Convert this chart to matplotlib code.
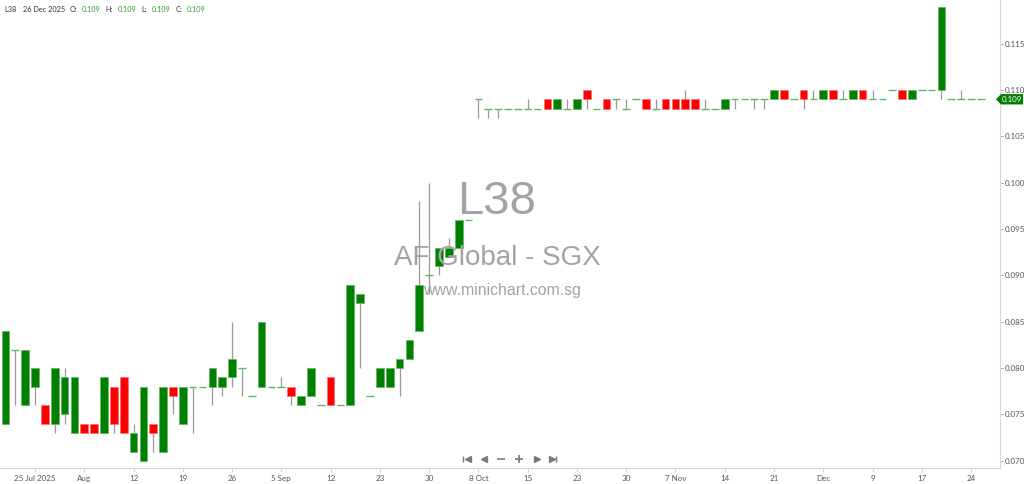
import matplotlib
matplotlib.use("Agg")
import matplotlib.pyplot as plt
import matplotlib.transforms as mtransforms
from matplotlib.lines import Line2D
from matplotlib.patches import Polygon
import numpy as np

# daily OHLC, L38 (AF Global - SGX), 100 sessions up to 26 Dec 2025
opens = [0.074, 0.082, 0.076, 0.078, 0.076, 0.074, 0.075, 0.073, 0.074, 0.074,
         0.073, 0.078, 0.079, 0.071, 0.070, 0.074, 0.071, 0.078, 0.074, 0.078,
         0.078, 0.078, 0.078, 0.079, 0.080, 0.077, 0.078, 0.078, 0.078, 0.078,
         0.076, 0.077, 0.076, 0.079, 0.076, 0.076, 0.087, 0.077, 0.078, 0.078,
         0.080, 0.081, 0.084, 0.090, 0.091, 0.092, 0.093, 0.096, 0.109, 0.108,
         0.108, 0.108, 0.108, 0.108, 0.108, 0.109, 0.108, 0.108, 0.108, 0.110,
         0.108, 0.109, 0.109, 0.108, 0.109, 0.109, 0.108, 0.109, 0.109, 0.109,
         0.109, 0.108, 0.108, 0.108, 0.109, 0.109, 0.109, 0.109, 0.109, 0.110,
         0.109, 0.110, 0.109, 0.109, 0.110, 0.109, 0.109, 0.110, 0.109, 0.109,
         0.110, 0.110, 0.109, 0.110, 0.110, 0.110, 0.109, 0.109, 0.109, 0.109]
highs = [0.084, 0.082, 0.082, 0.080, 0.076, 0.080, 0.080, 0.079, 0.074, 0.074,
         0.079, 0.078, 0.079, 0.074, 0.078, 0.074, 0.078, 0.078, 0.078, 0.078,
         0.078, 0.080, 0.079, 0.085, 0.080, 0.077, 0.085, 0.078, 0.079, 0.078,
         0.077, 0.080, 0.076, 0.079, 0.076, 0.089, 0.088, 0.077, 0.080, 0.080,
         0.081, 0.083, 0.098, 0.100, 0.093, 0.094, 0.096, 0.096, 0.109, 0.108,
         0.108, 0.108, 0.108, 0.109, 0.108, 0.109, 0.109, 0.109, 0.109, 0.110,
         0.108, 0.109, 0.109, 0.109, 0.109, 0.109, 0.109, 0.109, 0.109, 0.110,
         0.109, 0.109, 0.108, 0.109, 0.109, 0.109, 0.109, 0.109, 0.110, 0.110,
         0.109, 0.110, 0.110, 0.110, 0.110, 0.110, 0.110, 0.110, 0.110, 0.109,
         0.110, 0.110, 0.110, 0.110, 0.110, 0.119, 0.109, 0.110, 0.109, 0.109]
lows = [0.074, 0.076, 0.076, 0.076, 0.074, 0.073, 0.074, 0.073, 0.073, 0.073,
        0.073, 0.073, 0.073, 0.071, 0.070, 0.071, 0.071, 0.075, 0.074, 0.073,
        0.078, 0.076, 0.077, 0.078, 0.077, 0.077, 0.078, 0.078, 0.078, 0.076,
        0.076, 0.077, 0.076, 0.076, 0.076, 0.076, 0.080, 0.077, 0.078, 0.078,
        0.077, 0.081, 0.084, 0.088, 0.090, 0.092, 0.093, 0.096, 0.107, 0.107,
        0.107, 0.108, 0.108, 0.108, 0.108, 0.108, 0.108, 0.108, 0.108, 0.108,
        0.108, 0.108, 0.108, 0.108, 0.109, 0.108, 0.108, 0.108, 0.108, 0.108,
        0.108, 0.108, 0.108, 0.108, 0.108, 0.109, 0.108, 0.108, 0.109, 0.109,
        0.109, 0.108, 0.109, 0.109, 0.109, 0.109, 0.109, 0.109, 0.109, 0.109,
        0.110, 0.109, 0.109, 0.110, 0.110, 0.109, 0.109, 0.109, 0.109, 0.109]
closes = [0.084, 0.082, 0.082, 0.080, 0.074, 0.080, 0.079, 0.079, 0.073, 0.073,
          0.079, 0.074, 0.073, 0.073, 0.078, 0.073, 0.078, 0.077, 0.078, 0.078,
          0.078, 0.080, 0.079, 0.081, 0.080, 0.077, 0.085, 0.078, 0.078, 0.077,
          0.077, 0.080, 0.076, 0.076, 0.076, 0.089, 0.088, 0.077, 0.080, 0.080,
          0.081, 0.083, 0.089, 0.090, 0.093, 0.093, 0.096, 0.096, 0.109, 0.108,
          0.108, 0.108, 0.108, 0.108, 0.108, 0.108, 0.109, 0.108, 0.109, 0.109,
          0.108, 0.108, 0.109, 0.108, 0.109, 0.108, 0.108, 0.108, 0.108, 0.108,
          0.108, 0.108, 0.108, 0.109, 0.109, 0.109, 0.109, 0.109, 0.110, 0.109,
          0.109, 0.109, 0.109, 0.110, 0.109, 0.109, 0.110, 0.109, 0.109, 0.109,
          0.110, 0.109, 0.110, 0.110, 0.110, 0.119, 0.109, 0.109, 0.109, 0.109]

date_tick_pos = [3, 8, 13, 18, 23, 28, 33, 38, 43, 48, 53, 58, 63, 68, 73, 78, 83, 88, 93, 98]
date_tick_labels = ["25 Jul 2025", "Aug", "12", "19", "26", "5 Sep", "12", "23", "30", "8 Oct",
                    "15", "23", "30", "7 Nov", "14", "21", "Dec", "9", "17", "24"]
price_ticks = [0.070, 0.075, 0.080, 0.085, 0.090, 0.095, 0.100, 0.105, 0.110, 0.115]

GREEN = "#008000"
RED = "#ff0000"
WICK = "#9a9a9a"
DOJI = "#5cb85c"
SMALL_FONT = "Lato"
SMALL_SIZE = 5.8

W, H = 1024, 484
fig = plt.figure(figsize=(W / 100, H / 100), dpi=100)
fig.patch.set_facecolor("white")
ax = fig.add_axes([0, 16 / H, 1000 / W, 468 / H])

o = np.array(opens)
h = np.array(highs)
l = np.array(lows)
c = np.array(closes)
x = np.arange(len(o))
width = 0.78

# wicks first, bodies on top
ax.vlines(x, l, h, color=WICK, linewidth=0.9, zorder=2)

up = c > o
down = c < o
flat = c == o
ax.bar(x[up], (c - o)[up], bottom=o[up], width=width, color=GREEN,
       edgecolor="#66b266", linewidth=0.5, zorder=3)
ax.bar(x[down], (o - c)[down], bottom=c[down], width=width, color=RED,
       edgecolor="#ff7070", linewidth=0.5, zorder=3)
ax.hlines(c[flat], x[flat] - width / 2, x[flat] + width / 2, color=DOJI,
          linewidth=1.0, zorder=3)

ax.set_xlim(-0.552, 100.94)
ax.set_ylim(0.06922, 0.11971)

# watermark behind the candles
wm = dict(ha="center", va="center", color="#a3a3a3", family="Liberation Sans",
          transform=fig.transFigure, zorder=1)
fig.text(497 / W, 1 - 202 / H, "L38", fontsize=34, **wm)
fig.text(497 / W, 1 - 258 / H, "AF Global - SGX", fontsize=20, **wm)
fig.text(502 / W, 1 - 290 / H, "www.minichart.com.sg", fontsize=11.4, **wm)

for side in ["top", "left"]:
    ax.spines[side].set_visible(False)
ax.spines["right"].set_color("#d8d8d8")
ax.spines["bottom"].set_color("#d8d8d8")
ax.spines["right"].set_linewidth(0.8)
ax.spines["bottom"].set_linewidth(0.8)

ax.yaxis.tick_right()
ax.set_yticks(price_ticks)
ax.set_yticklabels([f"{v:.3f}" for v in price_ticks])
ax.set_xticks(date_tick_pos)
ax.set_xticklabels(date_tick_labels)
ax.tick_params(axis="y", length=2, width=0.6, color="#999999", pad=1.5,
               labelsize=SMALL_SIZE, labelcolor="#555555")
ax.tick_params(axis="x", length=3, width=0.6, color="#cccccc", pad=2,
               labelsize=SMALL_SIZE, labelcolor="#555555")
for lbl in ax.get_xticklabels() + ax.get_yticklabels():
    lbl.set_family(SMALL_FONT)

# last price tag
last = c[-1]
half = 0.00056
tr = mtransforms.blended_transform_factory(fig.transFigure, ax.transData)
tag = Polygon([(996 / W, last), (1001 / W, last + half), (1023 / W, last + half),
               (1023 / W, last - half), (1001 / W, last - half)],
              closed=True, transform=tr, facecolor=GREEN, edgecolor="none",
              clip_on=False, zorder=5)
fig.add_artist(tag)
fig.text(1012 / W, last, f"{last:.3f}", transform=tr, ha="center", va="center",
         fontsize=SMALL_SIZE, color="white", family=SMALL_FONT, zorder=6)

# header line, pieces laid out one after another
hdr_y = 1 - 10 / H
header = [("L38", "#333333", 7), ("26 Dec 2025", "#333333", 4), ("O:", "#333333", 5),
          (f"{o[-1]:.3f}", "#2e9e2e", 5), ("H:", "#333333", 4), (f"{h[-1]:.3f}", "#2e9e2e", 5),
          ("L:", "#333333", 5), (f"{l[-1]:.3f}", "#2e9e2e", 5), ("C:", "#333333", 5),
          (f"{c[-1]:.3f}", "#2e9e2e", 0)]
renderer = fig.canvas.get_renderer()
cur = 4.0
for txt, col, gap in header:
    t = fig.text(cur / W, hdr_y, txt, ha="left", va="center", fontsize=5.3,
                 color=col, family=SMALL_FONT)
    cur += t.get_window_extent(renderer).width + gap

# navigation controls
nav_y = 1 - 459 / H
nav_col = "#7a7a7a"
def nav_marker(px, marker, size=4.5, mew=1.0):
    fig.add_artist(Line2D([px / W], [nav_y], marker=marker, markersize=size,
                          color=nav_col, markeredgewidth=mew, transform=fig.transFigure))
nav_marker(463, "|", 5)
nav_marker(467.5, "<", 4)
nav_marker(484, "<", 4)
nav_marker(501, "_", 6, 1.2)
nav_marker(519, "+", 6, 1.2)
nav_marker(537, ">", 4)
nav_marker(551.5, ">", 4)
nav_marker(556, "|", 5)

fig.savefig("out.png", dpi=100, facecolor="white")
